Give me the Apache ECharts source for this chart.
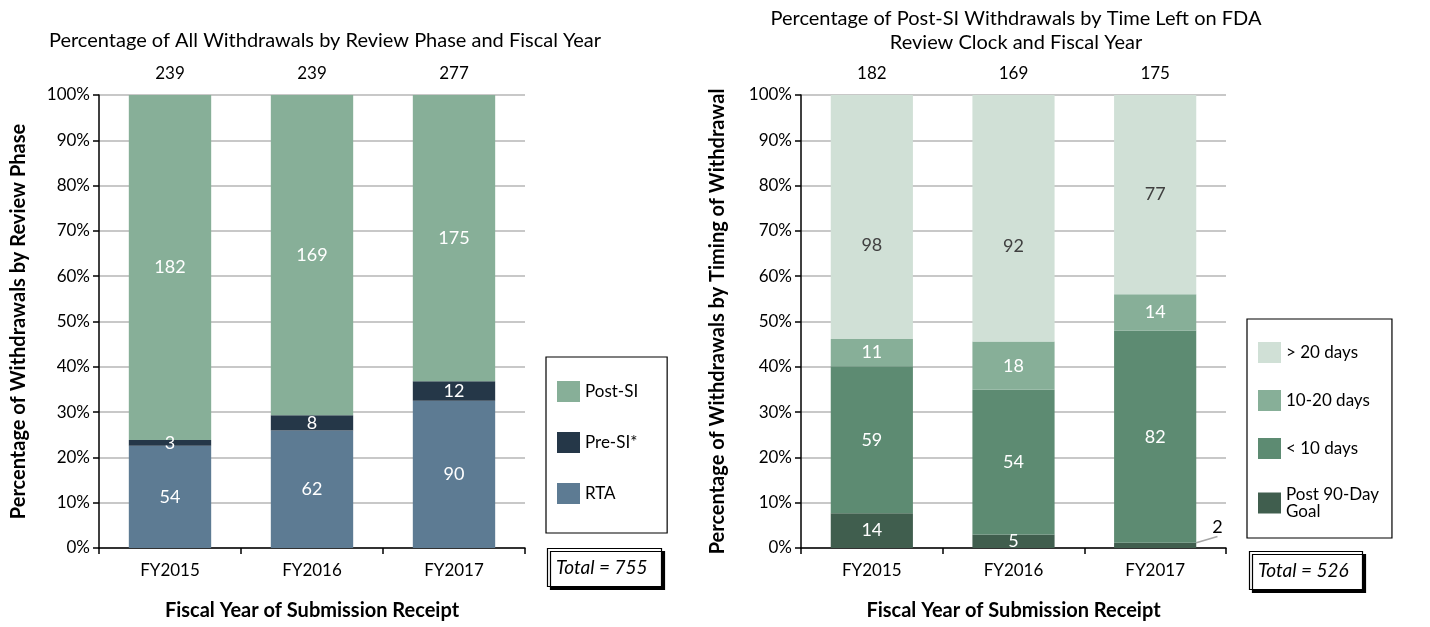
<!DOCTYPE html>
<html><head><meta charset="utf-8">
<script src="https://cdn.jsdelivr.net/npm/echarts@6/dist/echarts.min.js"></script>
<style>html,body{margin:0;padding:0;background:#fff}#c{width:1430px;height:627px}</style>
</head><body><div id="c"></div>
<script>
// ---- data ----
const categories = ['FY2015', 'FY2016', 'FY2017'];
// Left: all withdrawals by review phase (counts)
const rtaCounts    = [54, 62, 90];
const preSiCounts  = [3, 8, 12];
const postSiCounts = [182, 169, 175];
// Right: post-SI withdrawals by time left on review clock (counts)
const post90Counts  = [14, 5, 2];
const under10Counts = [59, 54, 82];
const mid10Counts   = [11, 18, 14];
const over20Counts  = [98, 92, 77];

// ---- derived ----
const sumCols = arrs => categories.map((_, i) => arrs.reduce((s, a) => s + a[i], 0));
const leftTotals  = sumCols([rtaCounts, preSiCounts, postSiCounts]);
const rightTotals = sumCols([post90Counts, under10Counts, mid10Counts, over20Counts]);
const grandLeft  = leftTotals.reduce((a, b) => a + b, 0);
const grandRight = rightTotals.reduce((a, b) => a + b, 0);

const FONT = 'Lato';
const colors = {
  'RTA': '#5D7B93', 'Pre-SI*': '#253748', 'Post-SI': '#87AF98',
  'Post 90-Day Goal': '#405E4E', '< 10 days': '#5D8B72', '10-20 days': '#87AF98', '> 20 days': '#D0E0D6'
};

function mkSeries(name, counts, totals, axisIdx, stack, labelColor, itemTweaks) {
  return {
    name, type: 'bar', stack, xAxisIndex: axisIdx, yAxisIndex: axisIdx === 0 ? 0 : 1,
    barCategoryGap: '42%',
    itemStyle: { color: colors[name] },
    label: {
      show: true, position: 'inside', color: labelColor, fontFamily: FONT, fontSize: 18,
      formatter: p => String(counts[p.dataIndex])
    },
    emphasis: { disabled: true },
    data: counts.map((c, i) => {
      const item = { value: c / totals[i] * 100 };
      if (itemTweaks && itemTweaks[i]) Object.assign(item, itemTweaks[i]);
      return item;
    })
  };
}

const leftSeries = [
  mkSeries('RTA', rtaCounts, leftTotals, 0, 'L', '#fff'),
  mkSeries('Pre-SI*', preSiCounts, leftTotals, 0, 'L', '#fff'),
  mkSeries('Post-SI', postSiCounts, leftTotals, 0, 'L', '#fff')
];
const post90 = mkSeries('Post 90-Day Goal', post90Counts, rightTotals, 2, 'R', '#fff', {
  2: { label: { position: 'right', color: '#000', distance: 4 }, labelLine: { show: true, lineStyle: { color: '#A6A6A6', width: 1.5 } } }
});
post90.labelLayout = p => (p.dataIndex === 2 ? { dx: 12, dy: -18 } : {});
const rightSeries = [
  post90,
  mkSeries('< 10 days', under10Counts, rightTotals, 2, 'R', '#fff'),
  mkSeries('10-20 days', mid10Counts, rightTotals, 2, 'R', '#fff'),
  mkSeries('> 20 days', over20Counts, rightTotals, 2, 'R', '#404040', {
    0: { label: { offset: [0, 28] } }, 1: { label: { offset: [0, 28] } }
  })
];

const axisTxt = { fontFamily: FONT, fontSize: 17, color: '#000' };
const nameTxt = { fontFamily: FONT, fontSize: 20, fontWeight: 'bold', color: '#000' };

function xBottom(gridIndex) {
  return {
    type: 'category', gridIndex, data: categories, position: 'bottom',
    axisLine: { lineStyle: { color: '#000', width: 1.5 } },
    axisTick: { show: true, length: 6, alignWithLabel: false, lineStyle: { color: '#000', width: 1.5 } },
    axisLabel: Object.assign({ margin: 14 }, axisTxt),
    name: 'Fiscal Year of Submission Receipt', nameLocation: 'middle', nameGap: 53,
    nameTextStyle: nameTxt
  };
}
function xTop(gridIndex, totals) {
  return {
    type: 'category', gridIndex, data: totals.map(String), position: 'top',
    axisLine: { show: false }, axisTick: { show: false },
    axisLabel: Object.assign({ margin: 13 }, axisTxt)
  };
}
function yAx(gridIndex, name, gap) {
  return {
    type: 'value', gridIndex, min: 0, max: 100, interval: 10,
    axisLine: { show: true, lineStyle: { color: '#000', width: 1.5 } },
    axisTick: { show: true, length: 6, lineStyle: { color: '#000', width: 1.5 } },
    axisLabel: Object.assign({ margin: 9, formatter: '{value}%' }, axisTxt),
    splitLine: { show: true, lineStyle: { color: '#C8C8C8', width: 2 } },
    name, nameLocation: 'middle', nameGap: gap, nameTextStyle: nameTxt
  };
}

const legendBase = {
  orient: 'vertical', icon: 'rect', itemWidth: 23, itemHeight: 21,
  borderColor: '#000', borderWidth: 1.2, backgroundColor: '#fff',
  textStyle: { fontFamily: FONT, fontSize: 17, color: '#000' },
  selectedMode: false
};
const totalBox = {
  borderColor: '#000', borderWidth: 1.2, backgroundColor: '#fff',
  shadowColor: '#000', shadowOffsetX: 3, shadowOffsetY: 3, shadowBlur: 0,
  padding: [10, 14, 10, 9],
  textStyle: { fontFamily: FONT, fontSize: 19, fontStyle: 'italic', fontWeight: 'normal', color: '#000' }
};

const chart = echarts.init(document.getElementById('c'), null, { renderer: 'canvas' });
chart.setOption({
  animation: false,
  backgroundColor: '#fff',
  title: [
    { text: 'Percentage of All Withdrawals by Review Phase and Fiscal Year', left: 325, top: 31, textAlign: 'center', padding: 0,
      textStyle: { fontFamily: FONT, fontSize: 20, fontWeight: 'normal', color: '#000' } },
    { text: 'Percentage of Post-SI Withdrawals by Time Left on FDA\nReview Clock and Fiscal Year', left: 1016, top: 7, textAlign: 'center', padding: 0,
      textStyle: { fontFamily: FONT, fontSize: 20, fontWeight: 'normal', color: '#000', lineHeight: 24 } },
    Object.assign({ text: 'Total = ' + grandLeft, left: 547, top: 548 }, totalBox),
    Object.assign({ text: 'Total = ' + grandRight, left: 1249, top: 551 }, totalBox)
  ],
  legend: [
    Object.assign({ data: ['Post-SI', 'Pre-SI*', 'RTA'], left: 546, top: 357, itemGap: 30, padding: [24, 29, 29, 11] }, legendBase),
    Object.assign({ data: ['> 20 days', '10-20 days', '< 10 days', 'Post 90-Day Goal'], left: 1247, top: 319, itemGap: 27, padding: [23, 13, 18, 11],
      formatter: n => n.replace(' Goal', '\nGoal') }, legendBase)
  ],
  grid: [
    { left: 99, right: 1430 - 525, top: 95, bottom: 627 - 548, containLabel: false },
    { left: 801, right: 1430 - 1226, top: 95, bottom: 627 - 548, containLabel: false }
  ],
  xAxis: [xBottom(0), xTop(0, leftTotals), xBottom(1), xTop(1, rightTotals)],
  yAxis: [yAx(0, 'Percentage of Withdrawals by Review Phase', 70), yAx(1, 'Percentage of Withdrawals by Timing of Withdrawal', 73)],
  series: leftSeries.concat(rightSeries)
});
</script></body></html>
